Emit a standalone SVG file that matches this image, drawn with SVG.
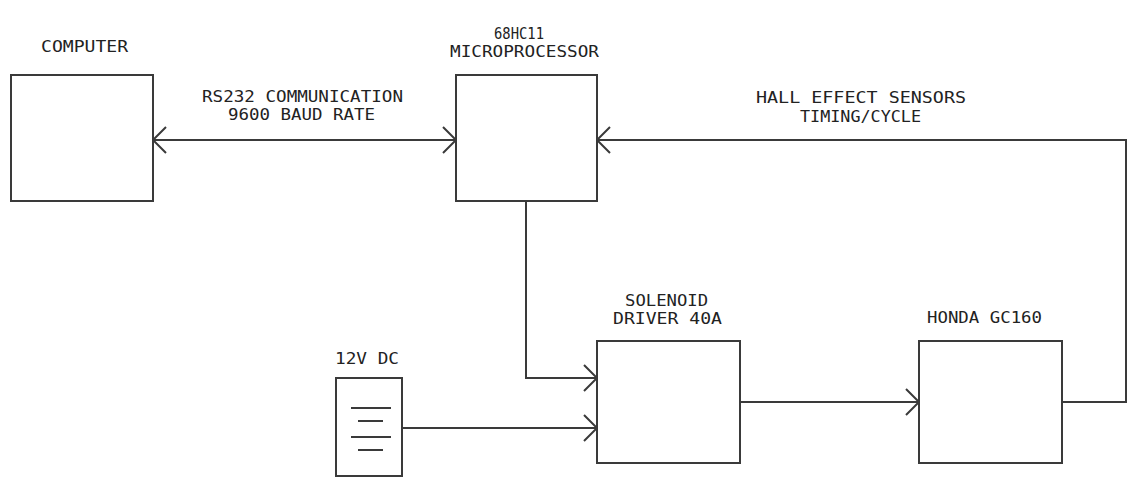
<svg xmlns="http://www.w3.org/2000/svg" width="1132" height="503" viewBox="0 0 1132 503">
<style>
.box{fill:#fff;stroke:#3a3a3a;stroke-width:2}
.ln{fill:none;stroke:#3a3a3a;stroke-width:2}
.t{font-family:"DejaVu Sans Mono","Liberation Mono",monospace;font-size:16px;fill:#222}
</style>
<defs>
<marker id="arr" markerUnits="userSpaceOnUse" markerWidth="30" markerHeight="30" refX="0" refY="0" viewBox="-15 -15 30 30" orient="auto-start-reverse" overflow="visible">
<path d="M-13,-13 L0,0 L-13,13" fill="none" stroke="#3a3a3a" stroke-width="2"/>
</marker>
</defs>
<rect width="1132" height="503" fill="#fff"/>
<g id="connectors">
<line class="ln" x1="153" y1="140" x2="456" y2="140" marker-start="url(#arr)" marker-end="url(#arr)"/>
<path class="ln" d="M1062,402 H1126 V140 H597" marker-end="url(#arr)"/>
<path class="ln" d="M526,201 V378 H597" marker-end="url(#arr)"/>
<path class="ln" d="M402,428 H597" marker-end="url(#arr)"/>
<path class="ln" d="M740,402 H919" marker-end="url(#arr)"/>
</g>
<g id="computer">
<rect class="box" x="11" y="75" width="142" height="126"/>
<text class="t" x="41" y="52" textLength="87" lengthAdjust="spacingAndGlyphs">COMPUTER</text>
</g>
<g id="microprocessor">
<rect class="box" x="456" y="75" width="141" height="126"/>
<text class="t" x="494" y="39" textLength="50" lengthAdjust="spacingAndGlyphs">68HC11</text>
<text class="t" x="450" y="57" textLength="149" lengthAdjust="spacingAndGlyphs">MICROPROCESSOR</text>
</g>
<g id="rs232-label">
<text class="t" x="202" y="102" textLength="201" lengthAdjust="spacingAndGlyphs">RS232 COMMUNICATION</text>
<text class="t" x="228" y="120" textLength="147" lengthAdjust="spacingAndGlyphs">9600 BAUD RATE</text>
</g>
<g id="hall-label">
<text class="t" x="756" y="103" textLength="210" lengthAdjust="spacingAndGlyphs">HALL EFFECT SENSORS</text>
<text class="t" x="800" y="122" textLength="121" lengthAdjust="spacingAndGlyphs">TIMING/CYCLE</text>
</g>
<g id="solenoid">
<rect class="box" x="597" y="341" width="143" height="122"/>
<text class="t" x="625" y="306" textLength="83" lengthAdjust="spacingAndGlyphs">SOLENOID</text>
<text class="t" x="613" y="324" textLength="109" lengthAdjust="spacingAndGlyphs">DRIVER 40A</text>
</g>
<g id="honda">
<rect class="box" x="919" y="341" width="143" height="122"/>
<text class="t" x="927" y="323" textLength="115" lengthAdjust="spacingAndGlyphs">HONDA GC160</text>
</g>
<g id="battery">
<rect class="box" x="336" y="378" width="66" height="98"/>
<line class="ln" x1="351" y1="408" x2="391" y2="408"/>
<line class="ln" x1="358" y1="421" x2="383" y2="421"/>
<line class="ln" x1="351" y1="437" x2="391" y2="437"/>
<line class="ln" x1="358" y1="450" x2="383" y2="450"/>
<text class="t" x="335" y="364" textLength="64" lengthAdjust="spacingAndGlyphs">12V DC</text>
</g>
</svg>
